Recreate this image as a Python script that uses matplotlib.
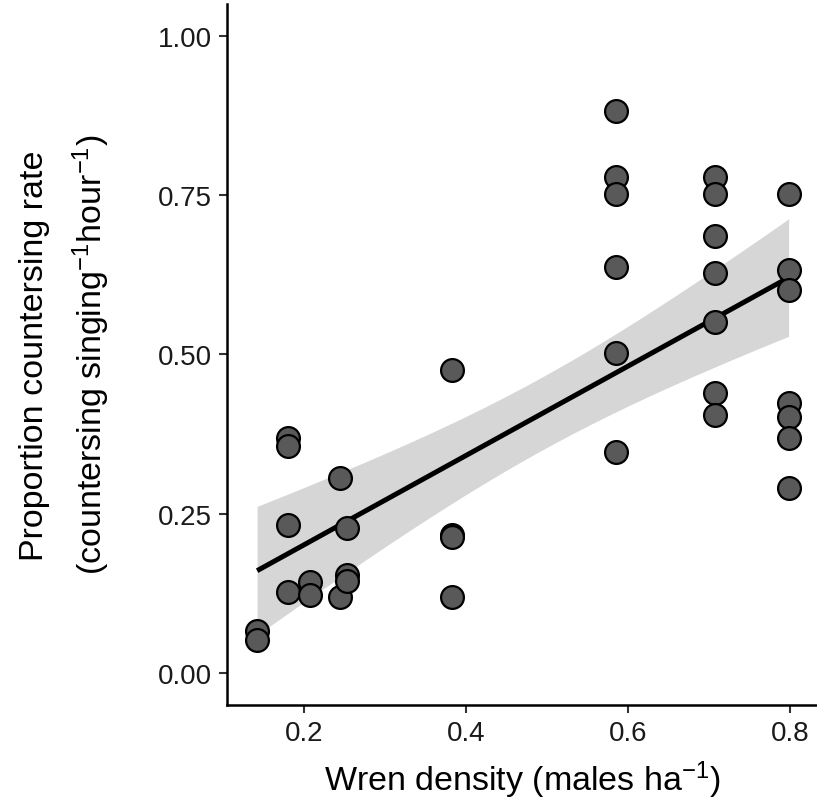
import numpy as np
import matplotlib
matplotlib.use('Agg')
import matplotlib.pyplot as plt

plt.rcParams['font.family'] = ['Liberation Sans', 'DejaVu Sans']
plt.rcParams['mathtext.fontset'] = 'custom'
plt.rcParams['mathtext.rm'] = 'Liberation Sans'
plt.rcParams['mathtext.it'] = 'Liberation Sans:italic'
plt.rcParams['mathtext.bf'] = 'Liberation Sans:bold'

# wren density (males/ha) and proportion countersinging
density = [0.142, 0.142,
           0.180, 0.180, 0.180, 0.180,
           0.207, 0.207,
           0.244, 0.244,
           0.253, 0.253, 0.253,
           0.382, 0.382, 0.382, 0.382,
           0.585, 0.585, 0.585, 0.585, 0.585, 0.585,
           0.707, 0.707, 0.707, 0.707, 0.707, 0.707, 0.707,
           0.798, 0.798, 0.798, 0.798, 0.798, 0.798, 0.798]
proportion = [0.066, 0.051,
              0.368, 0.356, 0.232, 0.127,
              0.143, 0.123,
              0.306, 0.119,
              0.228, 0.153, 0.145,
              0.476, 0.217, 0.213, 0.119,
              0.882, 0.778, 0.751, 0.637, 0.502, 0.346,
              0.778, 0.752, 0.685, 0.627, 0.550, 0.439, 0.405,
              0.751, 0.633, 0.601, 0.423, 0.402, 0.368, 0.290]

x_ticks = [0.2, 0.4, 0.6, 0.8]
y_ticks = [0.0, 0.25, 0.5, 0.75, 1.0]
y_ticklabels = ['0.00', '0.25', '0.50', '0.75', '1.00']

x = np.array(density)
y = np.array(proportion)

# linear fit + 95% confidence band (like geom_smooth(method='lm'))
n = len(x)
slope, intercept = np.polyfit(x, y, 1)
resid = y - (intercept + slope * x)
s = np.sqrt(np.sum(resid ** 2) / (n - 2))
sxx = np.sum((x - x.mean()) ** 2)
t_crit = 2.030  # t(0.975, df=35)
xs = np.linspace(x.min(), x.max(), 100)
fit = intercept + slope * xs
se = s * np.sqrt(1.0 / n + (xs - x.mean()) ** 2 / sxx)

fig = plt.figure(figsize=(8.17, 8.03), dpi=100)
ax = fig.add_axes([0.278, 0.121, 0.722, 0.873])

ax.fill_between(xs, fit - t_crit * se, fit + t_crit * se, color='#d6d6d6', lw=0, zorder=1)
ax.plot(xs, fit, color='black', lw=3.6, zorder=2, solid_capstyle='butt')
ax.scatter(x, y, s=270, facecolor='#595959', edgecolor='black', linewidths=1.6, zorder=3)

ax.set_xlim(0.105, 0.833)
ax.set_ylim(-0.05, 1.05)
ax.set_xticks(x_ticks)
ax.set_yticks(y_ticks)
ax.set_yticklabels(y_ticklabels)

for side in ['top', 'right']:
    ax.spines[side].set_visible(False)
for side in ['left', 'bottom']:
    ax.spines[side].set_linewidth(1.8)
    ax.spines[side].set_color('black')
ax.tick_params(axis='both', length=6, width=1.5, color='#333333',
               labelsize=20, labelcolor='#1a1a1a', pad=5)

ax.set_xlabel('Wren density (males ha$^{-1}$)', fontsize=24.5, labelpad=9)
ax.set_ylabel('Proportion countersing rate\n(countersing singing$^{-1}$hour$^{-1}$)',
              fontsize=24.5, labelpad=33, linespacing=1.65)

fig.savefig('out.png', dpi=100, facecolor='white')
